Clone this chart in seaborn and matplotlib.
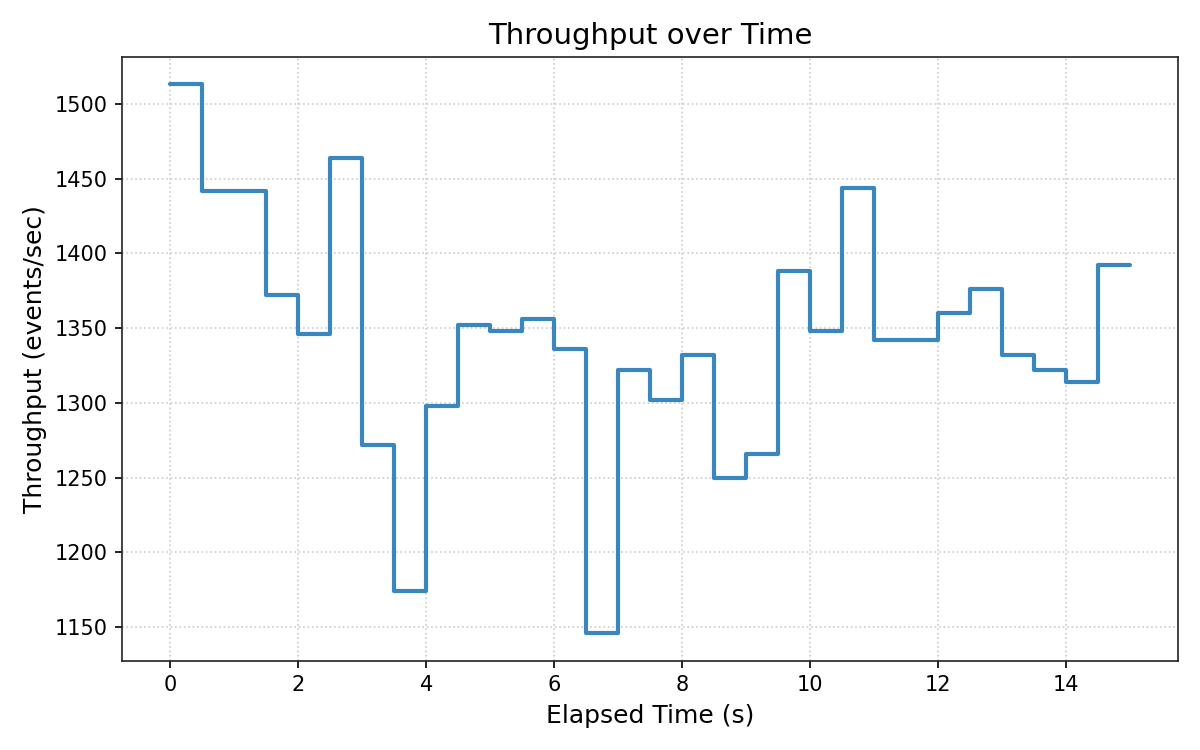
import pandas as pd
import matplotlib
matplotlib.use('Agg')
import matplotlib.pyplot as plt
import seaborn as sns

# throughput samples, every 0.5 s
elapsed_s = [0.0, 0.5, 1.0, 1.5, 2.0, 2.5, 3.0, 3.5, 4.0, 4.5,
             5.0, 5.5, 6.0, 6.5, 7.0, 7.5, 8.0, 8.5, 9.0, 9.5,
             10.0, 10.5, 11.0, 11.5, 12.0, 12.5, 13.0, 13.5, 14.0, 14.5, 15.0]
throughput = [1513, 1442, 1442, 1372, 1346, 1464, 1272, 1174, 1298, 1352,
              1348, 1356, 1336, 1146, 1322, 1302, 1332, 1250, 1266, 1388,
              1348, 1444, 1342, 1342, 1360, 1376, 1332, 1322, 1314, 1392, 1392]

df = pd.DataFrame({'Elapsed Time (s)': elapsed_s, 'Throughput': throughput})

sns.set_style('ticks')
plt.rcParams['font.family'] = ['DejaVu Sans']
plt.rcParams['text.color'] = 'black'
plt.rcParams['axes.labelcolor'] = 'black'
plt.rcParams['xtick.color'] = 'black'
plt.rcParams['ytick.color'] = 'black'
plt.rcParams['axes.edgecolor'] = '#222222'

fig, ax = plt.subplots(figsize=(8, 5), dpi=150)
sns.lineplot(data=df, x='Elapsed Time (s)', y='Throughput', ax=ax,
             drawstyle='steps-post', color='#3a87c0', linewidth=2)

ax.grid(True, linestyle=':', color='#cccccc', linewidth=0.8)
ax.set_title('Throughput over Time', fontsize=14)
ax.set_xlabel('Elapsed Time (s)', fontsize=12)
ax.set_ylabel('Throughput (events/sec)', fontsize=12)
ax.tick_params(labelsize=10)

plt.tight_layout()
plt.savefig('out.png', dpi=150)
